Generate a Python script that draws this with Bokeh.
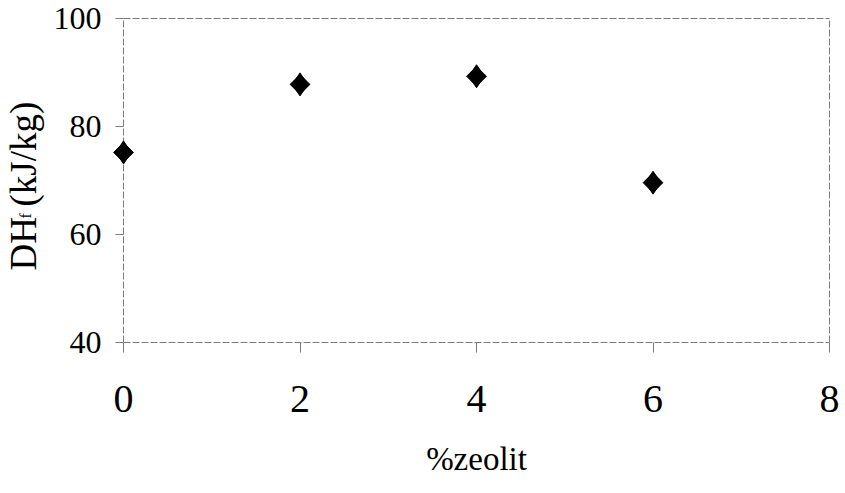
from math import pi

from bokeh.core.properties import value
from bokeh.embed import file_html
from bokeh.models import FixedTicker
from bokeh.plotting import figure
from bokeh.resources import INLINE

# Enthalpy of fusion against zeolite content
zeolite_pct = [0, 2, 4, 6]
dh_f = [75.2, 87.8, 89.3, 69.6]

x_ticks = [0, 2, 4, 6, 8]
y_ticks = [40, 60, 80, 100]

# y title pieces (the small "f" is a subscript)
y_title_parts = ["DH", "f", "(kJ/kg)"]
x_title = "%zeolit"

X_LO, X_HI = 0, 8
Y_LO, Y_HI = 40, 100

FONT = "Liberation Serif"
FRAME_GREY = "#7a7a7a"

# the plotting frame fills the whole canvas; axes are pinned inside it
p = figure(
    width=845,
    height=493,
    x_range=(-1.394, 8.181),
    y_range=(12.037, 103.333),
    output_backend="svg",
    toolbar_location=None,
    min_border=0,
)
p.outline_line_color = None
p.xgrid.visible = False
p.ygrid.visible = False
p.background_fill_color = "white"
p.border_fill_color = "white"

# plot box drawn as faint dashed lines
p.segment(
    x0=[X_LO, X_LO, X_HI, X_LO],
    y0=[Y_LO, Y_HI, Y_LO, Y_LO],
    x1=[X_HI, X_HI, X_HI, X_LO],
    y1=[Y_LO, Y_HI, Y_HI, Y_HI],
    line_color=FRAME_GREY,
    line_width=1,
    line_dash="7 2",
)

for ax, loc, ticks, tick_out, standoff, fs in (
    (p.xaxis[0], Y_LO, x_ticks, 10, 34, "40px"),
    (p.yaxis[0], X_LO, y_ticks, 8, 14, "32px"),
):
    ax.fixed_location = loc
    ax.ticker = FixedTicker(ticks=ticks)
    ax.axis_line_color = None
    ax.major_tick_line_color = FRAME_GREY
    ax.major_tick_out = tick_out
    ax.major_tick_in = 0
    ax.minor_tick_line_color = None
    ax.major_label_text_font = FONT
    ax.major_label_text_font_size = fs
    ax.major_label_text_color = "black"
    ax.major_label_standoff = standoff

# diamond markers: tall diamond merged with a rotated square
p.scatter(
    zeolite_pct, dh_f, marker="diamond", size=23,
    fill_color="black", line_color="black", line_width=1,
)
p.scatter(
    zeolite_pct, dh_f, marker="square", angle=pi / 4, size=14,
    fill_color="black", line_color="black", line_width=1,
)

# x title
p.text(
    x=[4], y=[18.5], text=[x_title],
    text_font=value(FONT), text_font_size="33px", text_color="black",
    text_align="center", text_baseline="middle",
)

# y title, rotated to read upwards
p.text(
    x=[-1.13, -1.11, -1.13],
    y=[53.33, 62.96, 65.19],
    text=y_title_parts,
    text_font_size=["37px", "16px", "37px"],
    angle=pi / 2,
    text_font=value(FONT), text_color="black",
    text_align="left", text_baseline="alphabetic",
)

open("out.html", "w").write(file_html(p, INLINE))
